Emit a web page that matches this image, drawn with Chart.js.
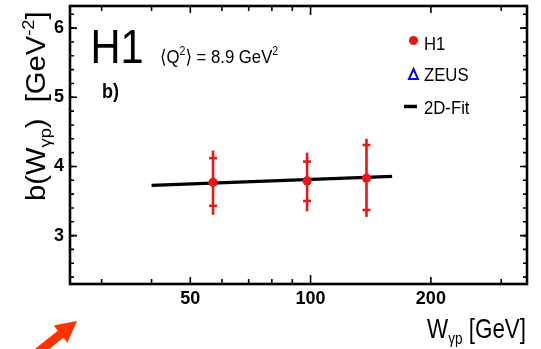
<!DOCTYPE html>
<html>
<head>
<meta charset="utf-8">
<script src="https://cdn.jsdelivr.net/npm/chart.js@4/dist/chart.umd.min.js"></script>
<style>
  html, body { margin: 0; padding: 0; background: #fff; }
  canvas { display: block; }
</style>
</head>
<body>
<canvas id="miCanvas" width="541" height="349"></canvas>
<script>
// datos
const wH1 = [57, 98, 138];
const bH1 = [3.77, 3.79, 3.83];
const bStatLow = [3.43, 3.50, 3.37];
const bStatHigh = [4.12, 4.07, 4.31];
const bTotLow = [3.30, 3.35, 3.27];
const bTotHigh = [4.23, 4.20, 4.40];

const wFit = [40, 160];
const bFit = [3.725, 3.855];

const xTickLabels = [50, 100, 200];
const xMinorTicks = [30, 40, 60, 70, 80, 90, 300];
const yTickLabels = [3, 4, 5, 6];

const RED = "#e81818";
const FONT = "'Liberation Sans', 'DejaVu Sans', sans-serif";

// minor ticks del eje y cada 0.2
const yMinorTicks = [];
for (let v = 2.4; v < 6.31; v += 0.2) yMinorTicks.push(Math.round(v * 10) / 10);

// texto con sub/superindices, comprimido en horizontal
function drawRich(ctx, parts, x, y, sx) {
  ctx.save();
  ctx.translate(x, y);
  ctx.scale(sx, 1);
  let cx = 0;
  parts.forEach(function (p) {
    ctx.font = (p.weight || "normal") + " " + p.size + "px " + FONT;
    ctx.fillText(p.t, cx, p.dy || 0);
    cx += ctx.measureText(p.t).width;
  });
  ctx.restore();
}

const marcoPlugin = {
  id: "marco",
  beforeDatasetDraw(chart, args) {
    if (args.index !== 1) return;
    const ctx = chart.ctx;
    const x = chart.scales.x, y = chart.scales.y;
    ctx.save();
    ctx.strokeStyle = RED;
    ctx.lineWidth = 2.6;
    for (let i = 0; i < wH1.length; i++) {
      const px = x.getPixelForValue(wH1[i]);
      ctx.beginPath();
      ctx.moveTo(px, y.getPixelForValue(bTotLow[i]));
      ctx.lineTo(px, y.getPixelForValue(bTotHigh[i]));
      ctx.stroke();
      [bStatLow[i], bStatHigh[i]].forEach(function (v) {
        const py = y.getPixelForValue(v);
        ctx.beginPath();
        ctx.moveTo(px - 4, py);
        ctx.lineTo(px + 4, py);
        ctx.stroke();
      });
    }
    ctx.restore();
  },
  afterDraw(chart) {
    const ctx = chart.ctx;
    const a = chart.chartArea;
    const x = chart.scales.x, y = chart.scales.y;
    ctx.save();
    ctx.strokeStyle = "#000";
    // ticks hacia adentro
    ctx.lineWidth = 1.6;
    function tickX(v, len) {
      const px = x.getPixelForValue(v);
      ctx.beginPath();
      ctx.moveTo(px, a.bottom); ctx.lineTo(px, a.bottom - len);
      ctx.moveTo(px, a.top); ctx.lineTo(px, a.top + len);
      ctx.stroke();
    }
    function tickY(v, len) {
      const py = y.getPixelForValue(v);
      ctx.beginPath();
      ctx.moveTo(a.left, py); ctx.lineTo(a.left + len, py);
      ctx.moveTo(a.right, py); ctx.lineTo(a.right - len, py);
      ctx.stroke();
    }
    xMinorTicks.forEach(v => tickX(v, 5));
    xTickLabels.forEach(v => tickX(v, v === 100 ? 9 : 7));
    yMinorTicks.forEach(v => tickY(v, 4));
    yTickLabels.forEach(v => tickY(v, 7));
    // marco
    ctx.lineWidth = 2.6;
    ctx.strokeRect(a.left, a.top, a.right - a.left, a.bottom - a.top);

    // textos
    ctx.fillStyle = "#000";
    ctx.textBaseline = "alphabetic";
    drawRich(ctx, [{ t: "H1", size: 49 }], 90.5, 63, 0.85);
    drawRich(ctx, [
      { t: "\u27E8Q", size: 19 },
      { t: "2", size: 12, dy: -8 },
      { t: "\u27E9 = 8.9 GeV", size: 19 },
      { t: "2", size: 12, dy: -8 }
    ], 160, 63, 0.88);
    drawRich(ctx, [{ t: "b)", size: 20, weight: "bold" }], 102, 98, 0.9);

    // leyenda
    ctx.fillStyle = RED;
    ctx.beginPath();
    ctx.arc(413.5, 40.5, 4.6, 0, Math.PI * 2);
    ctx.fill();
    ctx.strokeStyle = "#0000e0";
    ctx.lineWidth = 2;
    ctx.beginPath();
    ctx.moveTo(413.5, 69); ctx.lineTo(418, 79); ctx.lineTo(409, 79); ctx.closePath();
    ctx.stroke();
    ctx.strokeStyle = "#000";
    ctx.lineWidth = 3.5;
    ctx.beginPath();
    ctx.moveTo(404, 106.5); ctx.lineTo(417, 106.5);
    ctx.stroke();
    ctx.fillStyle = "#000";
    drawRich(ctx, [{ t: "H1", size: 19 }], 424, 50, 0.88);
    drawRich(ctx, [{ t: "ZEUS", size: 19 }], 424, 81, 0.88);
    drawRich(ctx, [{ t: "2D-Fit", size: 19 }], 424, 114, 0.88);

    // titulos de los ejes
    drawRich(ctx, [
      { t: "W", size: 28 },
      { t: "\u03B3p", size: 17, dy: 6 },
      { t: " [GeV]", size: 28 }
    ], 427, 338, 0.8);
    ctx.save();
    ctx.translate(45, 201);
    ctx.rotate(-Math.PI / 2);
    drawRich(ctx, [
      { t: "b(W", size: 27 },
      { t: "\u03B3p", size: 17, dy: 6 },
      { t: ")  [GeV", size: 27 },
      { t: "-2", size: 17, dy: -11 },
      { t: "]", size: 27 }
    ], 0, 0, 1.08);
    ctx.restore();

    // flecha naranja
    ctx.fillStyle = "#ff3300";
    const tx = 77, ty = 321;
    const ux = 0.78, uy = -0.626, nx = 0.626, ny = 0.78;
    const hl = 21, hw = 11, sw = 4.5;
    ctx.beginPath();
    ctx.moveTo(tx, ty);
    ctx.lineTo(tx - ux * hl + nx * hw, ty - uy * hl + ny * hw);
    ctx.lineTo(tx - ux * hl + nx * sw, ty - uy * hl + ny * sw);
    ctx.lineTo(tx - ux * 60 + nx * sw, ty - uy * 60 + ny * sw);
    ctx.lineTo(tx - ux * 60 - nx * sw, ty - uy * 60 - ny * sw);
    ctx.lineTo(tx - ux * hl - nx * sw, ty - uy * hl - ny * sw);
    ctx.lineTo(tx - ux * hl - nx * hw, ty - uy * hl - ny * hw);
    ctx.closePath();
    ctx.fill();
    ctx.restore();
  }
};

const ctx = document.getElementById("miCanvas");
const myChart = new Chart(ctx, {
  type: "scatter",
  data: {
    datasets: [
      {
        label: "2D-Fit",
        data: wFit.map((w, i) => ({ x: w, y: bFit[i] })),
        showLine: true,
        borderColor: "#000",
        borderWidth: 3.2,
        pointRadius: 0,
        order: 2
      },
      {
        label: "H1",
        data: wH1.map((w, i) => ({ x: w, y: bH1[i] })),
        backgroundColor: RED,
        borderColor: RED,
        pointRadius: 4.6,
        borderWidth: 0,
        order: 1
      }
    ]
  },
  options: {
    responsive: false,
    devicePixelRatio: 1,
    animation: false,
    layout: { padding: { top: 6, right: 14, left: 0, bottom: 0 } },
    scales: {
      x: {
        type: "logarithmic",
        min: 25,
        max: 348,
        afterBuildTicks: s => { s.ticks = xTickLabels.map(v => ({ value: v })); },
        afterFit: s => { s.height = 65; s.paddingLeft = 0; s.paddingRight = 0; },
        grid: { display: false, drawTicks: false },
        border: { display: false },
        ticks: {
          autoSkip: false,
          maxRotation: 0,
          padding: 4,
          color: "#000",
          font: { family: FONT, size: 18, weight: "bold" },
          callback: v => String(v)
        }
      },
      y: {
        min: 2.3,
        max: 6.32,
        afterBuildTicks: s => { s.ticks = yTickLabels.map(v => ({ value: v })); },
        afterFit: s => { s.width = 70; s.paddingTop = 0; s.paddingBottom = 0; },
        grid: { display: false, drawTicks: false },
        border: { display: false },
        ticks: {
          padding: 6,
          color: "#000",
          font: { family: FONT, size: 18, weight: "bold" },
          callback: v => String(v)
        }
      }
    },
    plugins: {
      legend: { display: false },
      tooltip: { enabled: false }
    }
  },
  plugins: [marcoPlugin]
});
</script>
</body>
</html>
